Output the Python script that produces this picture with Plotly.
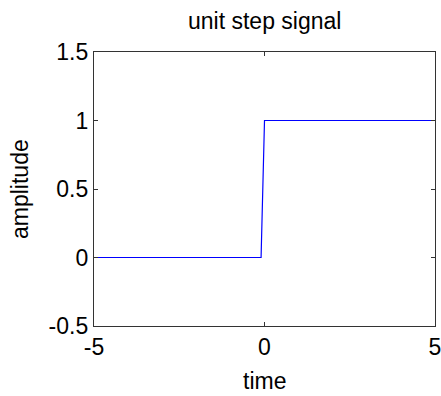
import plotly.graph_objects as go

time = [-5, -0.1, 0, 5]
amplitude = [0, 0, 1, 1]
x_ticks = [-5, 0, 5]
y_ticks = [-0.5, 0, 0.5, 1, 1.5]
y_tick_text = ["-0.5", "0", "0.5", "1", "1.5"]

FONT = "Liberation Sans, Arial, Helvetica, sans-serif"
FS = 23

fig = go.Figure()
fig.add_trace(go.Scatter(x=time, y=amplitude, mode="lines",
                         line=dict(color="#0000ff", width=1.2), showlegend=False))

axis_common = dict(showgrid=False, zeroline=False, showline=True, linecolor="#333333",
                   linewidth=1.3, mirror="ticks", ticks="inside", ticklen=4,
                   tickcolor="#333333", tickwidth=1, ticklabeloverflow="allow",
                   automargin=False,
                   tickfont=dict(family=FONT, size=FS, color="black"))

fig.update_xaxes(range=[-5, 5], tickvals=x_ticks, ticktext=[str(v) for v in x_ticks],
                 **axis_common)
fig.update_yaxes(range=[-0.5, 1.5], tickvals=y_ticks, ticktext=y_tick_text,
                 **axis_common)

fig.update_layout(
    width=441, height=396,
    margin=dict(l=94, r=6, t=52, b=70),
    paper_bgcolor="white", plot_bgcolor="white",
    font=dict(family=FONT, size=FS, color="black"),
    annotations=[
        dict(text="unit step signal", xref="paper", yref="paper", x=0.5, y=1,
             yshift=31, showarrow=False, xanchor="center", yanchor="middle",
             font=dict(family=FONT, size=FS, color="black")),
        dict(text="time", xref="paper", yref="paper", x=0.5, y=0,
             yshift=-55, showarrow=False, xanchor="center", yanchor="middle",
             font=dict(family=FONT, size=FS, color="black")),
        dict(text="amplitude", xref="paper", yref="paper", x=0, y=0.5,
             xshift=-74, showarrow=False, xanchor="center", yanchor="middle",
             textangle=-90, font=dict(family=FONT, size=FS, color="black")),
    ],
)

fig.write_html("out.html")
